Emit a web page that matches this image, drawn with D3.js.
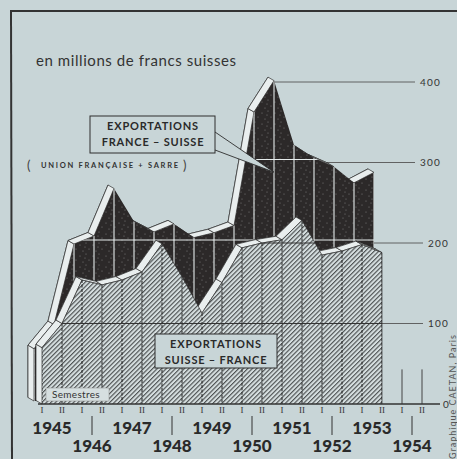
<!DOCTYPE html>
<html>
<head>
<meta charset="utf-8">
<script src="https://cdn.jsdelivr.net/npm/d3@7"></script>
<style>
  body { margin: 0; background: #c8d5d7; }
  svg { display: block; }
</style>
</head>
<body>
<div id="chart"></div>
<script>
// ---- data : semestres 1945 - 1954, en millions de francs suisses ----
var years = [1945, 1946, 1947, 1948, 1949, 1950, 1951, 1952, 1953, 1954];
var halves = ["I", "II"];
var ticks = [0, 100, 200, 300, 400];
// exportations France -> Suisse (union française + Sarre)
var franceSuisse = [65, 95, 195, 205, 264, 223, 210, 220, 203, 209, 218, 359, 398, 318, 302, 291, 271, 284];
// exportations Suisse -> France
var suisseFrance = [70, 100, 154, 148, 154, 164, 199, 158, 113, 151, 194, 200, 204, 228, 185, 190, 198, 188];

var W = 457, H = 459;
var bg = "#c8d5d7", ink = "#2e2e2e", paper = "#e9eeee";

var periods = [];
years.forEach(function(yr) { halves.forEach(function(h) { periods.push({ year: yr, half: h }); }); });

var svg = d3.select("#chart").append("svg").attr("width", W).attr("height", H);
svg.append("rect").attr("width", W).attr("height", H).attr("fill", bg);

var x = d3.scaleLinear().domain([0, periods.length - 1]).range([42, 422]);
var y = d3.scaleLinear().domain([0, 400]).range([404, 82]);

var back = { x: -8, y: -3 };      // black layer sits behind the hatched one
var depth = { x: -6, y: -3.5 };   // thickness of the white rims

var defs = svg.append("defs");
var hatch = defs.append("pattern").attr("id", "hatch").attr("patternUnits", "userSpaceOnUse")
    .attr("width", 3.2).attr("height", 3.2).attr("patternTransform", "rotate(45)");
hatch.append("rect").attr("width", 3.2).attr("height", 3.2).attr("fill", "#d6dfe0");
hatch.append("line").attr("x1", 0.6).attr("y1", 0).attr("x2", 0.6).attr("y2", 3.2)
    .attr("stroke", "#3a3d3e").attr("stroke-width", 1);
var speck = defs.append("pattern").attr("id", "speck").attr("patternUnits", "userSpaceOnUse")
    .attr("width", 13).attr("height", 11);
speck.append("rect").attr("width", 13).attr("height", 11).attr("fill", "#2c2929");
[[2, 3], [8, 1], [11, 7], [5, 9], [7, 5]].forEach(function(p) {
  speck.append("circle").attr("cx", p[0]).attr("cy", p[1]).attr("r", 0.5).attr("fill", "#8a8a8a");
});

function layerPoints(values, s) {
  var pts = [[x(0) + s.x, y(0) + s.y]];
  values.forEach(function(v, i) { pts.push([x(i) + s.x, y(v) + s.y]); });
  pts.push([x(values.length - 1) + s.x, y(0) + s.y]);
  return pts;
}
function shift(pts, s) { return pts.map(function(p) { return [p[0] + s.x, p[1] + s.y]; }); }
var line = d3.line();

function drawSolid(g, pts, fill) {
  var rim = shift(pts, depth);
  g.append("path").attr("d", line(rim) + "Z").attr("fill", paper).attr("stroke", ink).attr("stroke-width", 0.8);
  for (var i = 0; i < pts.length - 2; i++) {
    var a = pts[i], b = pts[i + 1];
    var nx = b[1] - a[1], ny = -(b[0] - a[0]);
    if (depth.x * nx + depth.y * ny <= 0) continue;
    var quad = [a, b, [b[0] + depth.x, b[1] + depth.y], [a[0] + depth.x, a[1] + depth.y]];
    g.append("path").attr("d", line(quad) + "Z").attr("fill", paper)
        .attr("stroke", ink).attr("stroke-width", 0.7).attr("stroke-linejoin", "round");
  }
  g.append("path").attr("d", line(pts) + "Z").attr("fill", fill);
}

// ---- frame and title ----
svg.append("line").attr("x1", 10).attr("y1", 11).attr("x2", W).attr("y2", 11)
    .attr("stroke", "#333").attr("stroke-width", 2);
svg.append("line").attr("x1", 11).attr("y1", 11).attr("x2", 12).attr("y2", H)
    .attr("stroke", "#333").attr("stroke-width", 2);
svg.append("text").attr("x", 36).attr("y", 66).attr("font-family", "Lato").attr("font-size", 15)
    .attr("fill", "#333").attr("textLength", 200).text("en millions de francs suisses");

// ---- background grid lines (start where the black layer drops below) ----
var blackPts = layerPoints(franceSuisse, back);
function gridEnd(t) { return t >= 300 ? 415 : 423; }
ticks.filter(function(t) { return t > 0; }).forEach(function(t) {
  var n = franceSuisse.length, x0;
  var imax = d3.maxIndex(franceSuisse);
  if (franceSuisse[n - 1] >= t) x0 = x(n - 1) + back.x;
  else if (franceSuisse[imax] < t) x0 = x(imax) + back.x;
  else {
    for (var i = n - 2; i >= 0; i--) {
      if (franceSuisse[i] >= t) {
        var f = (franceSuisse[i] - t) / (franceSuisse[i] - franceSuisse[i + 1]);
        x0 = x(i) + f * (x(i + 1) - x(i)) + back.x; break;
      }
    }
  }
  svg.append("line").attr("x1", x0).attr("x2", gridEnd(t)).attr("y1", y(t)).attr("y2", y(t))
      .attr("stroke", "#555").attr("stroke-width", 0.9);
});

// ---- black layer : France -> Suisse ----
var gBlack = svg.append("g");
drawSolid(gBlack, blackPts, "url(#speck)");
defs.append("clipPath").attr("id", "clipBlack").append("path").attr("d", line(blackPts) + "Z");
var blackIn = gBlack.append("g").attr("clip-path", "url(#clipBlack)");
franceSuisse.forEach(function(v, i) {
  blackIn.append("line").attr("x1", x(i) + back.x).attr("x2", x(i) + back.x)
      .attr("y1", y(v) + back.y).attr("y2", y(0)).attr("stroke", "#e6ecec").attr("stroke-width", 1.1);
});
ticks.filter(function(t) { return t > 0; }).forEach(function(t) {
  blackIn.append("line").attr("x1", 0).attr("x2", W).attr("y1", y(t) + back.y).attr("y2", y(t) + back.y)
      .attr("stroke", "#e6ecec").attr("stroke-width", 1.1);
});

// ---- hatched layer : Suisse -> France ----
var hatchPts = layerPoints(suisseFrance, { x: 0, y: 0 });
var gHatch = svg.append("g");
drawSolid(gHatch, hatchPts, "url(#hatch)");
defs.append("clipPath").attr("id", "clipHatch").append("path").attr("d", line(hatchPts) + "Z");
var hatchIn = gHatch.append("g").attr("clip-path", "url(#clipHatch)");
suisseFrance.forEach(function(v, i) {
  hatchIn.append("line").attr("x1", x(i)).attr("x2", x(i)).attr("y1", y(v)).attr("y2", y(0))
      .attr("stroke", "#222").attr("stroke-width", 1).attr("stroke-dasharray", "3,1.5");
});
ticks.filter(function(t) { return t > 0; }).forEach(function(t) {
  hatchIn.append("line").attr("x1", 0).attr("x2", W).attr("y1", y(t)).attr("y2", y(t))
      .attr("stroke", "#333").attr("stroke-width", 1);
});
gHatch.append("path").attr("d", line(hatchPts.slice(1))).attr("fill", "none")
    .attr("stroke", ink).attr("stroke-width", 0.7);

// ---- empty semesters of 1954 ----
periods.forEach(function(p, i) {
  if (i < suisseFrance.length) return;
  svg.append("line").attr("x1", x(i)).attr("x2", x(i)).attr("y1", y(0)).attr("y2", y(43))
      .attr("stroke", "#444").attr("stroke-width", 1);
});

// ---- baseline and value labels ----
svg.append("line").attr("x1", x(0) - 4).attr("x2", 440).attr("y1", y(0)).attr("y2", y(0))
    .attr("stroke", "#333").attr("stroke-width", 1.4);
ticks.forEach(function(t) {
  svg.append("text").attr("x", t === 0 ? 443 : gridEnd(t) + 5).attr("y", y(t) + 3.5)
      .attr("font-family", "Lato").attr("font-size", 10).attr("letter-spacing", 1.2)
      .attr("fill", "#333").text(t);
});

// ---- semester and year labels ----
periods.forEach(function(p, i) {
  svg.append("text").attr("x", x(i)).attr("y", 413).attr("text-anchor", "middle")
      .attr("font-family", "Liberation Serif").attr("font-size", 9).attr("fill", "#333").text(p.half);
});
years.forEach(function(yr, k) {
  var cx = (x(2 * k) + x(2 * k + 1)) / 2;
  var low = k % 2 === 1;
  if (low) {
    svg.append("line").attr("x1", cx).attr("x2", cx).attr("y1", 416).attr("y2", 435)
        .attr("stroke", "#333").attr("stroke-width", 1);
  }
  svg.append("text").attr("x", cx).attr("y", low ? 452 : 434).attr("text-anchor", "middle")
      .attr("font-family", "Lato").attr("font-weight", 900).attr("font-size", 17)
      .attr("fill", "#2a2a2a").text(yr);
});

// ---- annotations ----
var tip = [x(12) + back.x, y(288)];
svg.append("path").attr("d", line([[215, 132], tip, [215, 150]])).attr("fill", bg)
    .attr("stroke", ink).attr("stroke-width", 0.9);
svg.append("rect").attr("x", 90).attr("y", 116).attr("width", 125).attr("height", 37)
    .attr("fill", bg).attr("stroke", ink).attr("stroke-width", 1);
[["EXPORTATIONS", 130], ["FRANCE \u2013 SUISSE", 146]].forEach(function(d) {
  svg.append("text").attr("x", 153).attr("y", d[1]).attr("text-anchor", "middle")
      .attr("font-family", "Lato").attr("font-weight", 700).attr("font-size", 11)
      .attr("letter-spacing", 0.8).attr("fill", "#2a2a2a").text(d[0]);
});
svg.append("text").attr("x", 27).attr("y", 170).attr("font-family", "Lato").attr("font-size", 13)
    .attr("fill", "#444").text("(");
svg.append("text").attr("x", 183).attr("y", 170).attr("font-family", "Lato").attr("font-size", 13)
    .attr("fill", "#444").text(")");
svg.append("text").attr("x", 41).attr("y", 168).attr("font-family", "Lato").attr("font-weight", 700)
    .attr("font-size", 7.5).attr("fill", "#333").attr("textLength", 137).attr("lengthAdjust", "spacing")
    .text("UNION FRANÇAISE  +  SARRE");

svg.append("rect").attr("x", 155).attr("y", 334).attr("width", 122).attr("height", 34)
    .attr("fill", bg).attr("stroke", ink).attr("stroke-width", 1);
[["EXPORTATIONS", 348], ["SUISSE \u2013 FRANCE", 364]].forEach(function(d) {
  svg.append("text").attr("x", 216).attr("y", d[1]).attr("text-anchor", "middle")
      .attr("font-family", "Lato").attr("font-weight", 700).attr("font-size", 11)
      .attr("letter-spacing", 0.8).attr("fill", "#2a2a2a").text(d[0]);
});

svg.append("rect").attr("x", 46).attr("y", 388).attr("width", 63).attr("height", 13)
    .attr("fill", "#d6dfe0").attr("stroke", "#888").attr("stroke-width", 0.5);
svg.append("text").attr("x", 52).attr("y", 398).attr("font-family", "Lato").attr("font-size", 10)
    .attr("fill", "#333").attr("letter-spacing", 0.3).text("Semestres");

svg.append("text").attr("transform", "translate(456,459) rotate(-90)")
    .attr("font-family", "Lato").attr("font-size", 9).attr("letter-spacing", 1)
    .attr("fill", "#555").text("Graphique CAETAN, Paris");
</script>
</body>
</html>
